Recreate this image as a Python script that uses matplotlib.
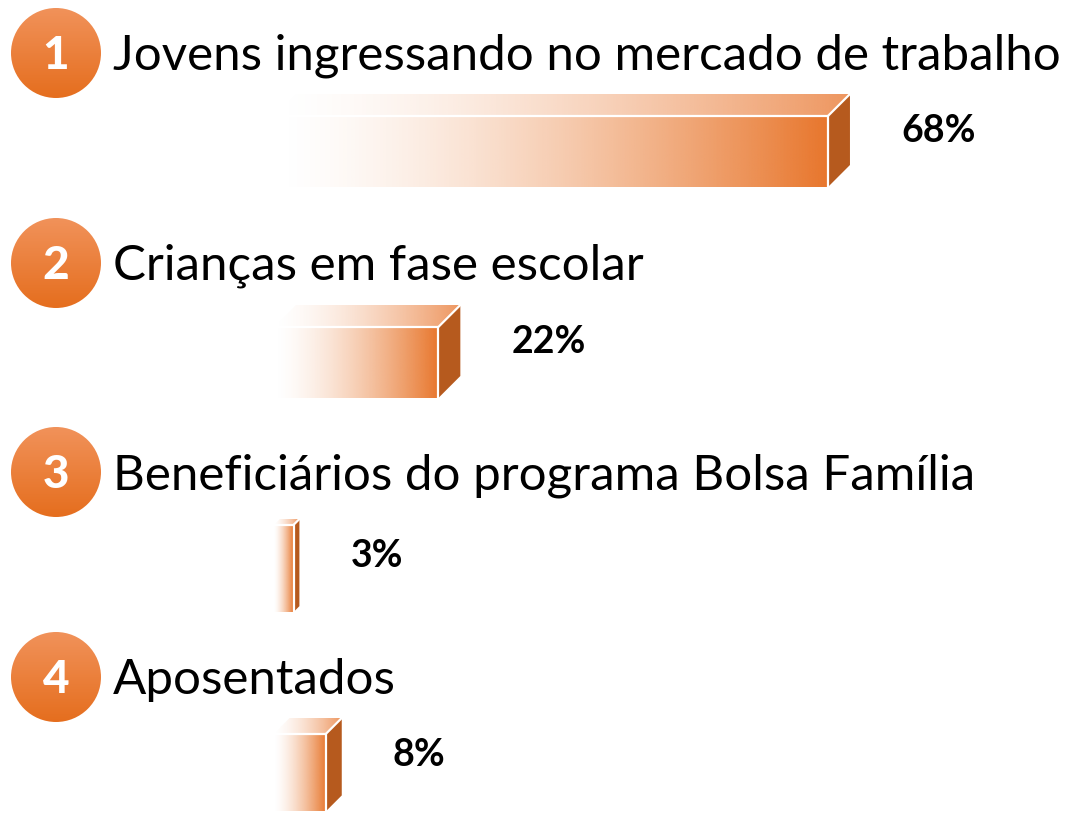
import numpy as np
import matplotlib
matplotlib.use("Agg")
import matplotlib.pyplot as plt
from matplotlib.patches import Polygon, Ellipse

plt.rcParams['font.family'] = ['Lato', 'DejaVu Sans']

# data
ranks = ['1', '2', '3', '4']
categories = ['Jovens ingressando no mercado de trabalho',
              'Crianças em fase escolar',
              'Beneficiários do programa Bolsa Família',
              'Aposentados']
values = [68, 22, 3, 8]
value_labels = [f'{v}%' for v in values]

# layout (pixels, figure is 1068 x 815)
W, H = 1068, 815
x_origin = 274          # pixel where 0 % sits
px_per_pct = 8.47
row_center = [53, 263, 472, 677]   # circle centres
bar_top = [94, 305, 519, 718]      # top of the 3d box
box_h = 93
max_depth = 22

orange = np.array([232, 118, 44]) / 255
orange_top = np.array([238, 150, 95]) / 255
side_col = '#B65A1E'

fig = plt.figure(figsize=(W / 100, H / 100), dpi=100)
ax = fig.add_axes([0, 0, 1, 1])
xmin = -x_origin / px_per_pct
xmax = (W - x_origin) / px_per_pct
ax.axis('off')


def ramp(col, n=256, power=1.5):
    t = np.linspace(0, 1, n) ** power
    img = np.zeros((1, n, 4))
    img[..., :3] = col
    img[..., 3] = t
    return img


def vgrad(top, bottom, n=128):
    t = np.linspace(0, 1, n)[:, None]
    img = np.ones((n, 1, 4))
    img[:, 0, :3] = (1 - t) * np.array(top) + t * np.array(bottom)
    return img


circ_img = vgrad(np.array([241, 146, 90]) / 255, np.array([229, 110, 30]) / 255)
r_px = 45

for i, (rk, cat, v, lab) in enumerate(zip(ranks, categories, values, value_labels)):
    cy = row_center[i]
    cx = (56 - x_origin) / px_per_pct
    # numbered circle
    circ = Ellipse((cx, cy), 2 * r_px / px_per_pct, 2 * r_px, facecolor='none',
                   edgecolor='none')
    ax.add_patch(circ)
    im = ax.imshow(circ_img, extent=[cx - r_px / px_per_pct, cx + r_px / px_per_pct,
                                     cy + r_px, cy - r_px],
                   aspect='auto', interpolation='bilinear', zorder=2)
    im.set_clip_path(circ)
    ax.text(cx, cy + 16, rk, color='white', fontsize=33, fontweight='black',
            ha='center', va='baseline', zorder=3)
    # category text
    ax.text((113 - x_origin) / px_per_pct, cy + 17, cat, fontsize=35.5,
            color='black', ha='left', va='baseline')

    # 3d bar
    top = bar_top[i]
    d_px = min(0.23 * v * px_per_pct, max_depth)
    dd = d_px / px_per_pct
    bottom = top + box_h
    front_r = v - dd
    # front face
    front = Polygon([(0, top + d_px), (front_r, top + d_px), (front_r, bottom), (0, bottom)],
                    closed=True, facecolor='none', edgecolor='none')
    ax.add_patch(front)
    im = ax.imshow(ramp(orange), extent=[0, front_r, bottom, top + d_px],
                   aspect='auto', interpolation='bilinear', zorder=2)
    im.set_clip_path(front)
    # top face
    topf = Polygon([(0, top + d_px), (dd, top), (v, top), (front_r, top + d_px)],
                   closed=True, facecolor='none', edgecolor='none')
    ax.add_patch(topf)
    im = ax.imshow(ramp(orange_top), extent=[0, v, top + d_px, top],
                   aspect='auto', interpolation='bilinear', zorder=2)
    im.set_clip_path(topf)
    # side face
    side = Polygon([(front_r, top + d_px), (v, top), (v, bottom - d_px), (front_r, bottom)],
                   closed=True, facecolor=side_col, edgecolor='none', zorder=2)
    ax.add_patch(side)
    # white edges
    ax.plot([0, front_r, front_r], [top + d_px, top + d_px, bottom], color='white',
            lw=1.6, zorder=4, solid_capstyle='butt')
    ax.plot([front_r, v], [top + d_px, top], color='white', lw=1.6, zorder=4)

    # value label
    ax.text(v + 51 / px_per_pct, top + 37, lab, fontsize=27, fontweight='bold',
            color='black', ha='left', va='center')

ax.set_xlim(xmin, xmax)
ax.set_ylim(H, 0)
fig.savefig('out.png', dpi=100, facecolor='white')
